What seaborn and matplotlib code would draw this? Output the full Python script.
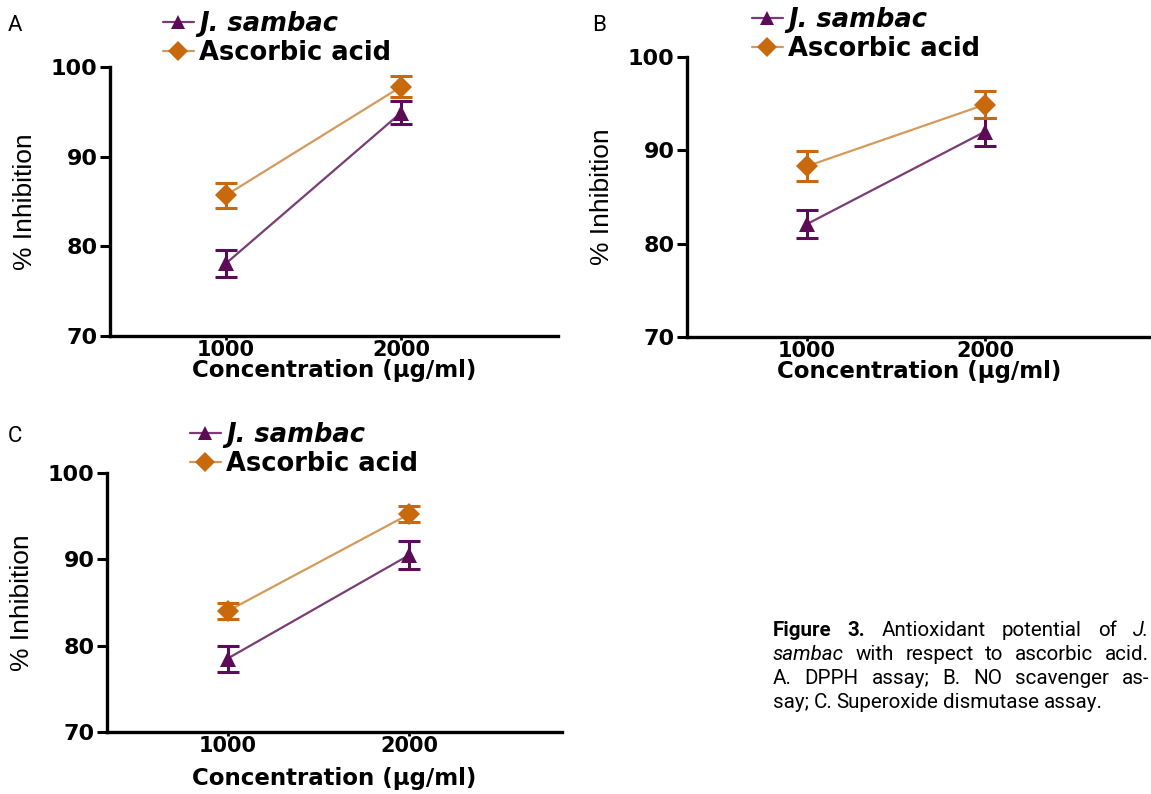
import numpy as np
import pandas as pd
import seaborn as sns
import matplotlib
matplotlib.use("Agg")
import matplotlib.pyplot as plt
from matplotlib import font_manager

# ---------------- data ----------------
conc = [1000, 2000]
series_names = ["J. sambac", "Ascorbic acid"]

a_js = [78.1, 94.9]
a_js_err = [1.5, 1.3]
a_aa = [85.7, 97.8]
a_aa_err = [1.4, 1.2]

b_js = [82.1, 92.0]
b_js_err = [1.5, 1.5]
b_aa = [88.3, 94.9]
b_aa_err = [1.6, 1.45]

c_js = [78.5, 90.5]
c_js_err = [1.5, 1.6]
c_aa = [84.0, 95.25]
c_aa_err = [0.95, 0.9]

y_ticks = [70, 80, 90, 100]
x_ticks = [1000, 2000]
panel_letters = ["A", "B", "C"]
x_label = "Concentration (\u00b5g/ml)"
y_label = "% Inhibition"

caption_lines = [
    [("Figure", "bold"), ("3.", "bold"), ("Antioxidant", "normal"), ("potential", "normal"), ("of", "normal"), ("J.", "italic")],
    [("sambac", "italic"), ("with", "normal"), ("respect", "normal"), ("to", "normal"), ("ascorbic", "normal"), ("acid.", "normal")],
    [("A.", "normal"), ("DPPH", "normal"), ("assay;", "normal"), ("B.", "normal"), ("NO", "normal"), ("scavenger", "normal"), ("as-", "normal")],
    [("say;", "normal"), ("C.", "normal"), ("Superoxide", "normal"), ("dismutase", "normal"), ("assay.", "normal")],
]

# ---------------- style ----------------
sns.set_theme(style="ticks")
plt.rcParams["font.family"] = ["DejaVu Sans"]
plt.rcParams["text.color"] = "black"
plt.rcParams["axes.labelcolor"] = "black"
plt.rcParams["xtick.color"] = "black"
plt.rcParams["ytick.color"] = "black"

available = {f.name for f in font_manager.fontManager.ttflist}
narrow = "Liberation Sans Narrow" if "Liberation Sans Narrow" in available else "Liberation Sans"
cap_font = "Roboto" if "Roboto" in available else "DejaVu Sans"

PURPLE = "#5c0b57"
ORANGE = "#c8690e"
PURPLE_LINE = "#7a3c74"
ORANGE_LINE = "#d49a5c"

W, H = 1151, 794
fig = plt.figure(figsize=(W / 100, H / 100), dpi=100)


def px_rect(left, right, top, bottom):
    return [left / W, 1 - bottom / H, (right - left) / W, (bottom - top) / H]


panels = [
    dict(js=a_js, jse=a_js_err, aa=a_aa, aae=a_aa_err,
         rect=px_rect(110, 558, 67, 336), xlim=(337, 2897),
         leg=(163, 11), letter=(8, 31), xlpad=-1),
    dict(js=b_js, jse=b_js_err, aa=b_aa, aae=b_aa_err,
         rect=px_rect(687, 1151, 57, 337), xlim=(326, 2933),
         leg=(752, 7), letter=(592, 31), xlpad=-1),
    dict(js=c_js, jse=c_js_err, aa=c_aa, aae=c_aa_err,
         rect=px_rect(107, 562, 473, 732), xlim=(337, 2840),
         leg=(190, 422), letter=(8, 442), xlpad=8),
]

for i, p in enumerate(panels):
    ax = fig.add_axes(p["rect"])
    df = pd.DataFrame({
        "conc": conc * 2,
        "val": p["js"] + p["aa"],
        "series": [series_names[0]] * 2 + [series_names[1]] * 2,
    })
    sns.lineplot(data=df, x="conc", y="val", hue="series", style="series",
                 markers={series_names[0]: "^", series_names[1]: "D"},
                 dashes=False, palette={series_names[0]: PURPLE, series_names[1]: ORANGE},
                 markersize=11, linewidth=1.6, ax=ax, legend=True, zorder=3)
    for ln in ax.get_lines():
        mc = ln.get_color()
        if matplotlib.colors.same_color(mc, PURPLE):
            ln.set_color(PURPLE_LINE)
            ln.set_markerfacecolor(PURPLE); ln.set_markeredgecolor(PURPLE)
        elif matplotlib.colors.same_color(mc, ORANGE):
            ln.set_color(ORANGE_LINE)
            ln.set_markerfacecolor(ORANGE); ln.set_markeredgecolor(ORANGE)
        ln.set_markeredgewidth(0)

    ax.errorbar(conc, p["js"], yerr=p["jse"], fmt="none", ecolor=PURPLE,
                elinewidth=2.2, capsize=8, capthick=2.2, zorder=4)
    ax.errorbar(conc, p["aa"], yerr=p["aae"], fmt="none", ecolor=ORANGE,
                elinewidth=2.2, capsize=8, capthick=2.2, zorder=4)

    ax.set_xlim(*p["xlim"])
    ax.set_ylim(70, 100)
    ax.set_yticks(y_ticks)
    ax.set_xticks(x_ticks)
    ax.set_xticklabels([str(t) for t in x_ticks], fontweight="bold", fontsize=15)
    ax.set_yticklabels([str(t) for t in y_ticks], fontweight="bold", fontsize=16)
    ax.tick_params(axis="y", length=7, width=2.2, pad=2)
    ax.tick_params(axis="x", length=3, width=2.0, pad=0)
    sns.despine(ax=ax)
    for s in ["left", "bottom"]:
        ax.spines[s].set_linewidth(2.4)
        ax.spines[s].set_color("black")
    ax.set_xlabel(x_label, fontweight="bold", fontsize=16.5, labelpad=p["xlpad"])
    ax.set_ylabel(y_label, fontsize=19, family=[narrow, "DejaVu Sans"], labelpad=10)
    ax.patch.set_alpha(0)

    # legend
    handles, labels = ax.get_legend_handles_labels()
    ax.get_legend().remove()
    lx, ly = p["leg"]
    leg = fig.legend(handles, labels, loc="upper left",
                     bbox_to_anchor=(lx / W, 1 - ly / H), bbox_transform=fig.transFigure,
                     frameon=False, borderpad=0, borderaxespad=0, handlelength=1.2,
                     handletextpad=0.2, labelspacing=0.12,
                     prop={"weight": "bold", "size": 18.5})
    for t in leg.get_texts():
        t.set_color("black")
        if t.get_text() == series_names[0]:
            t.set_style("italic")
    for h in leg.legend_handles:
        h.set_markersize(10)

    lx2, ly2 = p["letter"]
    fig.text(lx2 / W, 1 - ly2 / H, panel_letters[i], fontsize=16, family=[cap_font, "DejaVu Sans"],
             ha="left", va="baseline")

# ---------------- caption (justified) ----------------
fig.canvas.draw()
renderer = fig.canvas.get_renderer()
cap_left = 773
cap_right = 1149
baselines = [636, 660, 684, 708]
for li, words in enumerate(caption_lines):
    texts = []
    widths = []
    for w, kind in words:
        kw = dict(fontsize=14.8, family=[cap_font, "DejaVu Sans"], va="baseline", ha="left")
        if kind == "bold":
            kw["fontweight"] = "bold"
        elif kind == "italic":
            kw["style"] = "italic"
        t = fig.text(0, 1 - baselines[li] / H, w, **kw)
        bb = t.get_window_extent(renderer=renderer)
        texts.append(t)
        widths.append(bb.width)
    space = 4.5
    if li < len(caption_lines) - 1:
        gap = max(space, (cap_right - cap_left - sum(widths)) / (len(words) - 1))
    else:
        gap = space
    x = cap_left
    for t, wdt in zip(texts, widths):
        t.set_x(x / W)
        x += wdt + gap

fig.savefig("out.png", dpi=100)
